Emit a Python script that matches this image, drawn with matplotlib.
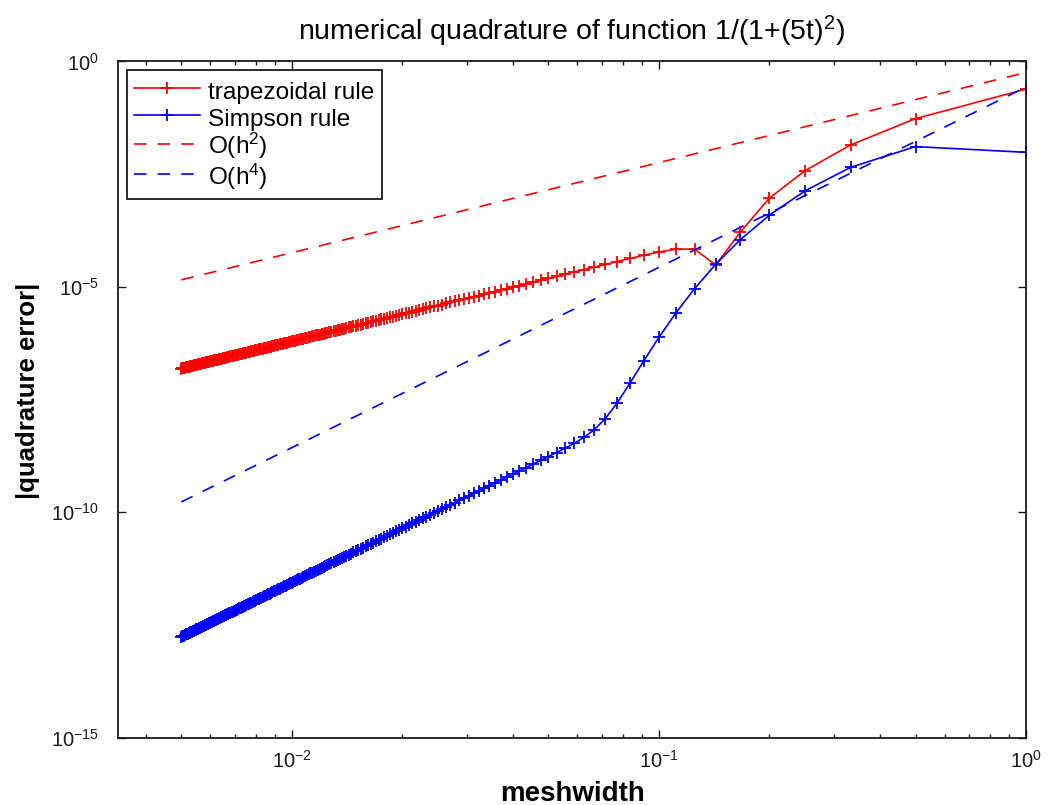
import numpy as np
import matplotlib
matplotlib.use('Agg')
import matplotlib.pyplot as plt
from matplotlib.ticker import FixedLocator, FixedFormatter, LogLocator, NullFormatter, NullLocator

plt.rcParams['font.family'] = ['Liberation Sans', 'DejaVu Sans']
plt.rcParams['mathtext.fontset'] = 'custom'
plt.rcParams['mathtext.rm'] = 'Liberation Sans'
plt.rcParams['mathtext.it'] = 'Liberation Sans:italic'
plt.rcParams['mathtext.bf'] = 'Liberation Sans:bold'
plt.rcParams['lines.scale_dashes'] = False

# number of panels n = 1..200, meshwidth h = 1/n
n_panels = np.arange(1, 201)
meshwidth = 1.0 / n_panels

# |error| of the trapezoidal rule, n = 1..15
trap_head = [2.446e-1, 5.390e-2, 1.416e-2, 3.769e-3, 9.31e-4, 1.637e-4, 3.05e-5,
             6.90e-5, 6.82e-5, 5.933e-5, 5.024e-5, 4.257e-5, 3.638e-5, 3.140e-5, 2.737e-5]
# n = 16..200, in units of 1e-6
trap_tail_e6 = [
    24.07, 21.33, 19.02, 17.07, 15.41, 13.98, 12.73, 11.65, 10.70, 9.861,
    9.117, 8.454, 7.861, 7.328, 6.848, 6.413, 6.019, 5.659, 5.331, 5.031,
    4.755, 4.502, 4.268, 4.052, 3.852, 3.666, 3.494, 3.333, 3.183, 3.043,
    2.913, 2.790, 2.675, 2.567, 2.465, 2.369, 2.279, 2.194, 2.113, 2.037,
    1.965, 1.897, 1.832, 1.770, 1.712, 1.656, 1.603, 1.553, 1.505, 1.459,
    1.415, 1.373, 1.333, 1.294, 1.258, 1.223, 1.189, 1.157, 1.125, 1.096,
    1.067, 1.039, 1.013, 0.9875, 0.9630, 0.9393, 0.9166, 0.8946, 0.8734, 0.8530,
    0.8333, 0.8142, 0.7958, 0.7781, 0.7609, 0.7442, 0.7281, 0.7126, 0.6975, 0.6829,
    0.6687, 0.6550, 0.6417, 0.6288, 0.6163, 0.6042, 0.5924, 0.5809, 0.5698, 0.5590,
    0.5485, 0.5383, 0.5284, 0.5187, 0.5093, 0.5002, 0.4913, 0.4827, 0.4742, 0.4660,
    0.4580, 0.4502, 0.4426, 0.4352, 0.4280, 0.4209, 0.4141, 0.4074, 0.4008, 0.3944,
    0.3882, 0.3821, 0.3762, 0.3704, 0.3647, 0.3591, 0.3537, 0.3484, 0.3432, 0.3382,
    0.3332, 0.3284, 0.3236, 0.3190, 0.3144, 0.3100, 0.3056, 0.3014, 0.2972, 0.2931,
    0.2891, 0.2852, 0.2814, 0.2776, 0.2739, 0.2703, 0.2667, 0.2633, 0.2599, 0.2565,
    0.2532, 0.2500, 0.2469, 0.2438, 0.2407, 0.2378, 0.2348, 0.2320, 0.2291, 0.2264,
    0.2237, 0.2210, 0.2184, 0.2158, 0.2133, 0.2108, 0.2083, 0.2059, 0.2036, 0.2012,
    0.1990, 0.1967, 0.1945, 0.1923, 0.1902, 0.1881, 0.1861, 0.1840, 0.1820, 0.1801,
    0.1781, 0.1762, 0.1744, 0.1725, 0.1707, 0.1689, 0.1672, 0.1655, 0.1638, 0.1621,
    0.1604, 0.1588, 0.1572, 0.1556, 0.1541]

# |error| of Simpson's rule, n = 1..20
simpson_head = [9.649e-3, 1.294e-2, 4.500e-3, 1.348e-3, 3.894e-4, 1.114e-4, 3.18e-5,
                9.07e-6, 2.607e-6, 7.576e-7, 2.266e-7, 7.24e-8, 2.64e-8, 1.192e-8,
                6.77e-9, 4.56e-9, 3.385e-9, 2.637e-9, 2.108e-9, 1.712e-9]
# n = 21..200, in units of 1e-12
simpson_tail_e12 = [
    1406, 1168, 977.3, 824.3, 700.2, 598.5, 514.6, 445.0, 386.7, 337.7,
    296.1, 260.8, 230.6, 204.7, 182.3, 162.8, 145.9, 131.2, 118.2, 106.8,
    96.79, 87.89, 80.00, 72.97, 66.70, 61.08, 56.05, 51.52, 47.44, 43.76,
    40.41, 37.40, 34.66, 32.15, 29.88, 27.80, 25.91, 24.17, 22.56, 21.10,
    19.75, 18.50, 17.37, 16.31, 15.33, 14.42, 13.57, 12.80, 12.06, 11.40,
    10.77, 10.18, 9.640, 9.113, 8.649, 8.198, 7.773, 7.389, 7.022, 6.678,
    6.353, 6.050, 5.763, 5.493, 5.239, 5.000, 4.773, 4.560, 4.359, 4.169,
    3.988, 3.817, 3.656, 3.503, 3.358, 3.220, 3.089, 2.965, 2.847, 2.735,
    2.629, 2.527, 2.430, 2.338, 2.250, 2.166, 2.087, 2.010, 1.937, 1.868,
    1.802, 1.738, 1.678, 1.619, 1.564, 1.510, 1.459, 1.411, 1.364, 1.319,
    1.276, 1.235, 1.195, 1.157, 1.120, 1.085, 1.051, 1.019, 0.9879, 0.9577,
    0.9285, 0.9008, 0.8740, 0.8481, 0.8236, 0.7994, 0.7766, 0.7540, 0.7327, 0.7118,
    0.6920, 0.6725, 0.6541, 0.6360, 0.6186, 0.6018, 0.5857, 0.5702, 0.5549, 0.5402,
    0.5261, 0.5122, 0.4992, 0.4864, 0.4737, 0.4616, 0.4500, 0.4389, 0.4280, 0.4172,
    0.4072, 0.3970, 0.3876, 0.3779, 0.3691, 0.3603, 0.3517, 0.3435, 0.3353, 0.3276,
    0.3200, 0.3124, 0.3052, 0.2985, 0.2915, 0.2851, 0.2786, 0.2724, 0.2663, 0.2605,
    0.2548, 0.2494, 0.2438, 0.2385, 0.2336, 0.2284, 0.2236, 0.2190, 0.2143, 0.2098,
    0.2054, 0.2013, 0.1972, 0.1932, 0.1892, 0.1853, 0.1816, 0.1779, 0.1743, 0.1710]

trap_err = np.concatenate([trap_head, np.array(trap_tail_e6) * 1e-6])
simpson_err = np.concatenate([simpson_head, np.array(simpson_tail_e12) * 1e-12])

# reference slopes (endpoints at h = 0.005 and h = 1)
ref_h = [0.005, 1.0]
ref_order2 = [1.43e-5, 0.57]
ref_order4 = [1.69e-10, 0.27]

labels = ['trapezoidal rule', 'Simpson rule',
          r'O(h$\mathregular{^2}$)', r'O(h$\mathregular{^4}$)']
title = r'numerical quadrature of function 1/(1+(5t)$\mathregular{^2}$)'
xticks = [1e-2, 1e-1, 1e0]
xticklabels = [r'$\mathregular{10^{-2}}$', r'$\mathregular{10^{-1}}$', r'$\mathregular{10^{0}}$']
yticks = [1e-15, 1e-10, 1e-5, 1e0]
yticklabels = [r'$\mathregular{10^{-15}}$', r'$\mathregular{10^{-10}}$',
               r'$\mathregular{10^{-5}}$', r'$\mathregular{10^{0}}$']

W, H = 1049, 805
fig = plt.figure(figsize=(W / 100, H / 100), dpi=100)
ax_l, ax_r, ax_t, ax_b = 118, 1026, 61.5, 737.5
ax = fig.add_axes([ax_l / W, (H - ax_b) / H, (ax_r - ax_l) / W, (ax_b - ax_t) / H])
ax.set_xscale('log')
ax.set_yscale('log')

red = '#ff0000'
blue = '#0000ff'
ax.plot(meshwidth, trap_err, color=red, lw=1.2, marker='+', ms=8.5, mew=1.3, label=labels[0])
ax.plot(meshwidth, simpson_err, color=blue, lw=1.2, marker='+', ms=8.5, mew=1.3, label=labels[1])
ax.plot(ref_h, ref_order2, color=red, lw=1.2, dashes=(9, 8), label=labels[2])
ax.plot(ref_h, ref_order4, color=blue, lw=1.2, dashes=(9, 8), label=labels[3])

ax.set_xlim(0.00336, 1.0)
ax.set_ylim(1e-15, 1.0)
ax.xaxis.set_major_locator(FixedLocator(xticks))
ax.xaxis.set_major_formatter(FixedFormatter(xticklabels))
ax.xaxis.set_minor_locator(LogLocator(base=10, subs=np.arange(2, 10)))
ax.xaxis.set_minor_formatter(NullFormatter())
ax.yaxis.set_major_locator(FixedLocator(yticks))
ax.yaxis.set_major_formatter(FixedFormatter(yticklabels))
ax.yaxis.set_minor_locator(NullLocator())

ax.tick_params(which='both', direction='in', top=True, right=True, colors='#1a1a1a')
ax.tick_params(which='major', length=6, width=1.0, labelsize=14.5)
ax.tick_params(which='minor', length=3.2, width=1.0)
ax.tick_params(axis='x', which='major', pad=9)
ax.tick_params(axis='y', which='major', pad=14)
for sp in ax.spines.values():
    sp.set_linewidth(1.3)
    sp.set_color('#1a1a1a')

ax.set_title(title, fontsize=20.5, pad=15.5)
ax.set_xlabel('meshwidth', fontsize=20, fontweight='bold')
ax.set_ylabel('|quadrature error|', fontsize=18.5, fontweight='bold')
ax.xaxis.set_label_coords(0.5, (ax_b - 781) / (ax_b - ax_t))
ax.yaxis.set_label_coords((40 - ax_l) / (ax_r - ax_l), (ax_b - 391) / (ax_b - ax_t))

leg = ax.legend(loc='upper left',
                bbox_to_anchor=((127 - ax_l) / (ax_r - ax_l), (ax_b - 70) / (ax_b - ax_t)),
                borderaxespad=0, fontsize=17.6, handlelength=2.7, handleheight=1.32,
                handletextpad=0.33, borderpad=0.3, labelspacing=0.0,
                fancybox=False, framealpha=1, edgecolor='#1a1a1a', numpoints=1)
leg.get_frame().set_linewidth(1.3)

fig.savefig('out.png', dpi=100)
